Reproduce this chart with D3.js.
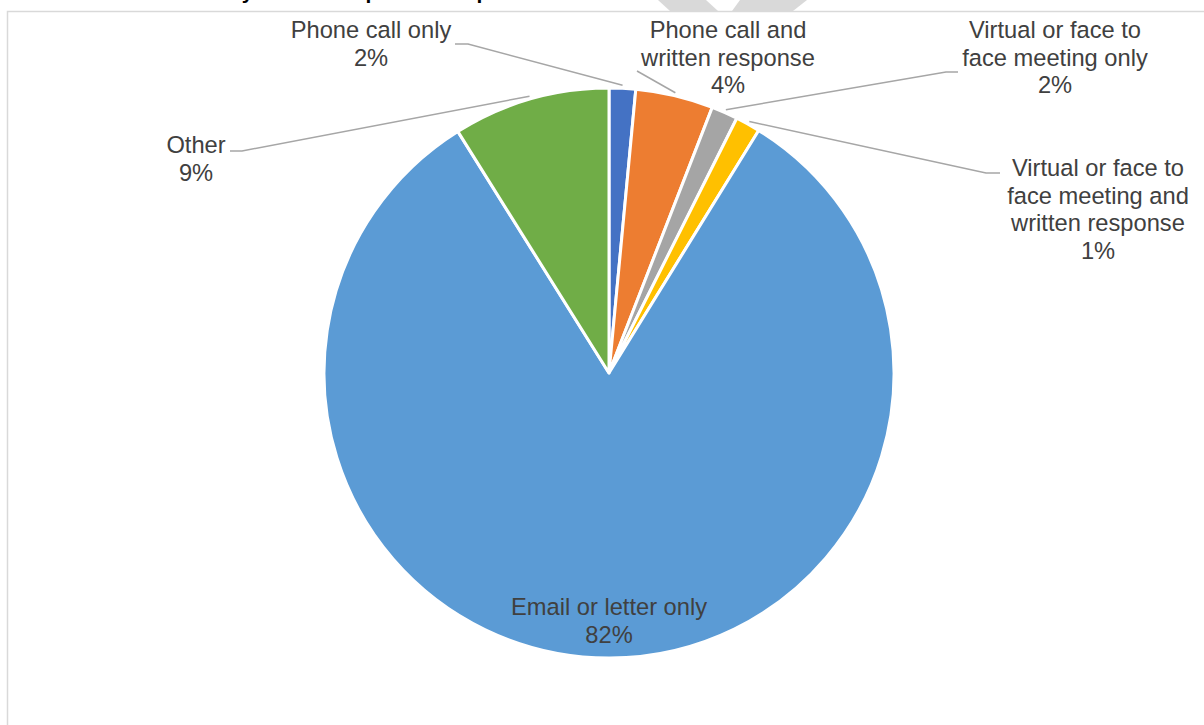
<!DOCTYPE html>
<html>
<head>
<meta charset="utf-8">
<script src="https://cdn.jsdelivr.net/npm/d3@7/dist/d3.min.js"></script>
<style>
  html, body { margin: 0; padding: 0; background: #ffffff; }
  svg { display: block; }
</style>
</head>
<body>
<div id="chart"></div>
<script>
// ---- data ----
const categories = [
  "Phone call only",
  "Phone call and written response",
  "Virtual or face to face meeting only",
  "Virtual or face to face meeting and written response",
  "Email or letter only",
  "Other"
];
const values = [1.5, 4.4, 1.5, 1.4, 82.3, 8.9];
const labelLines = [
  ["Phone call only"],
  ["Phone call and", "written response"],
  ["Virtual or face to", "face meeting only"],
  ["Virtual or face to", "face meeting and", "written response"],
  ["Email or letter only"],
  ["Other"]
];
const colors = ["#4472C4", "#ED7D31", "#A5A5A5", "#FFC000", "#5B9BD5", "#70AD47"];
const titleText = "Contact by written response and phone";

// ---- layout (not data) ----
const W = 1204, H = 725;
const cx = 609, cy = 373, R = 285;
const labelLayout = [
  { x: 371, y: 38, lead: [[455, 44], [468, 44]] },
  { x: 728, y: 38, lead: [[637, 71]] },
  { x: 1055, y: 38, lead: [[958, 72], [946, 72]] },
  { x: 1098, y: 176, lead: [[1000, 173], [986, 173]] },
  { x: 609, y: 615, lead: null },
  { x: 196, y: 153, lead: [[230, 151], [242, 151]] }
];
const lineH = 27.6;

const svg = d3.select("#chart").append("svg")
  .attr("width", W).attr("height", H)
  .style("font-family", "'Liberation Sans', Arial, sans-serif");

// title (clipped above the frame, as in the reference)
svg.append("text")
  .attr("x", 145).attr("y", -1.5)
  .attr("font-size", 21).attr("font-weight", "bold").attr("fill", "#000")
  .text(titleText);

// watermark fragments
svg.append("polygon").attr("points", "658,0 706,0 718,11 670,11").attr("fill", "#d9d9d9");
svg.append("polygon").attr("points", "740,0 807,0 793,11 732,11").attr("fill", "#d9d9d9");

// chart frame
svg.append("rect")
  .attr("x", 7.5).attr("y", 11.5).attr("width", 1210).attr("height", 730)
  .attr("fill", "#ffffff").attr("stroke", "#d9d9d9").attr("stroke-width", 1.5);

const total = d3.sum(values);
const pie = d3.pie().sort(null).value(d => d)(values);
const arc = d3.arc().innerRadius(0).outerRadius(R);

const g = svg.append("g").attr("transform", `translate(${cx},${cy})`);
g.selectAll("path.slice").data(pie).join("path")
  .attr("class", "slice")
  .attr("d", arc)
  .attr("fill", (d, i) => colors[i])
  .attr("stroke", "#ffffff").attr("stroke-width", 3).attr("stroke-linejoin", "round");

// leader lines
pie.forEach((d, i) => {
  const L = labelLayout[i];
  if (!L.lead) return;
  const a = (d.startAngle + d.endAngle) / 2;
  const end = [cx + (R + 3) * Math.sin(a), cy - (R + 3) * Math.cos(a)];
  const pts = L.lead.concat([end]);
  svg.append("path")
    .attr("d", d3.line()(pts))
    .attr("fill", "none").attr("stroke", "#a6a6a6").attr("stroke-width", 1.5);
});

// labels
pie.forEach((d, i) => {
  const L = labelLayout[i];
  const pct = Math.round(values[i] * 100 / total) + "%";
  const lines = labelLines[i].concat([pct]);
  const t = svg.append("text")
    .attr("text-anchor", "middle")
    .attr("font-size", 23.7).attr("fill", "#404040");
  lines.forEach((s, k) => {
    t.append("tspan").attr("x", L.x).attr("y", L.y + k * lineH).text(s);
  });
});
</script>
</body>
</html>
